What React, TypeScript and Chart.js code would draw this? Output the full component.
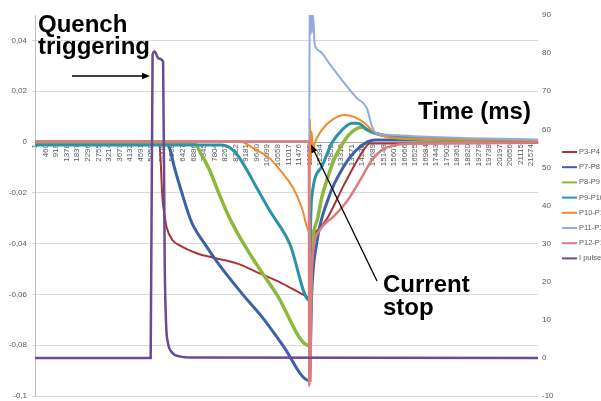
import React, { useEffect, useRef } from 'react';
import { Chart, registerables } from 'chart.js';

Chart.register(...registerables);

const FONT = '"Liberation Sans", Arial, sans-serif';

const SERIES_NAMES = ['P3-P4', 'P7-P8', 'P8-P9', 'P9-P10', 'P10-P11', 'P11-P12', 'P12-P13', 'I pulse'];
const SERIES_COLORS = ['#a83535', '#3d60a8', '#8cb83c', '#2b93a8', '#ee8a30', '#92abdd', '#dc7c7f', '#6a4a96'];
const SERIES_WIDTHS = [2, 3, 3.5, 3, 2, 2, 2.5, 2.5];

const X_TICK_LABELS = ['1', '460', '919', '1378', '1837', '2296', '2755', '3214', '3673', '4132', '4591', '5050',
  '5509', '5968', '6427', '6886', '7345', '7804', '8263', '8722', '9181', '9640', '10099', '10558', '11017', '11476',
  '11935', '12394', '12853', '13312', '13771', '14230', '14689', '15148', '15607', '16066', '16525', '16984', '17443',
  '17902', '18361', '18820', '19279', '19738', '20197', '20656', '21115', '21574'];
const X_MIN = 1;
const X_MAX = 21870;

const LEFT_TICKS = [-0.1, -0.08, -0.06, -0.04, -0.02, 0, 0.02, 0.04];
const LEFT_TICK_LABELS = ['-0,1', '-0,08', '-0,06', '-0,04', '-0,02', '0', '0,02', '0,04'];
const RIGHT_TICKS = [-10, 0, 10, 20, 30, 40, 50, 60, 70, 80, 90];

// [time (sample), voltage]
const P3_P4: [number, number][] = [
  [1, 0.0003], [5400, 0.0003], [5549, -0.023], [5636, -0.0289], [5723, -0.0336], [5984, -0.0387],
  [6288, -0.0407], [7028, -0.0438], [7681, -0.0454], [8769, -0.0478], [9769, -0.0517], [10639, -0.0552],
  [11814, -0.0608], [11930, -0.0612], [12031, -0.042], [12379, -0.034], [12727, -0.0297], [13467, -0.0163],
  [14206, -0.0044], [14554, -0.0006], [15000, -0.0006], [21870, -0.0004],
];
const P7_P8: [number, number][] = [
  [1, -0.0006], [5723, -0.0006], [5853, -0.0025], [6071, -0.0103], [6375, -0.0197], [6810, -0.0316],
  [7376, -0.04], [8029, -0.0486], [9030, -0.06], [9986, -0.0702], [10770, -0.08], [11930, -0.0939],
  [12031, -0.06], [12249, -0.0399], [12727, -0.0229], [13467, -0.009], [14119, -0.002], [14772, 0.0008],
  [15860, 0.0008], [21870, 0.0004],
];
const P8_P9: [number, number][] = [
  [1, -0.0008], [6941, -0.0008], [7246, -0.0052], [7594, -0.0111], [7942, -0.019], [8464, -0.03],
  [9247, -0.0427], [10509, -0.06], [11930, -0.0802], [12031, -0.045], [12292, -0.03], [12466, -0.022],
  [12727, -0.014], [13032, -0.0063], [13467, 0.0007], [13771, 0.0039], [14206, 0.0058], [14467, 0.0047],
  [14772, 0.0035], [15860, 0.0016], [21870, 0.0005],
];
const P9_P10: [number, number][] = [
  [1, -0.0012], [8116, -0.0012], [8682, -0.0038], [9116, -0.0095], [9638, -0.018], [10204, -0.027],
  [11074, -0.04], [11930, -0.0624], [11990, -0.03], [12031, -0.022], [12466, -0.0098], [12901, -0.0005],
  [13336, 0.0046], [13771, 0.0074], [14032, 0.0074], [14467, 0.0047], [14772, 0.0035], [15860, 0.002],
  [21870, 0.0006],
];
const P10_P11: [number, number][] = [
  [1, 0.0003], [8899, 0.0003], [9551, -0.0028], [10204, -0.0064], [10726, -0.0119], [11205, -0.0178],
  [11596, -0.0257], [11930, -0.0355], [11960, 0.009], [11990, -0.008], [12031, 0.004], [12075, -0.004],
  [12162, -0.0005], [12466, 0.0047], [12901, 0.0086], [13467, 0.0106], [13902, 0.0098], [14337, 0.0074],
  [14641, 0.0047], [14902, 0.0031], [15424, 0.0019], [16730, 0.0013], [21870, 0.0007],
];
const P11_P12: [number, number][] = [
  [1, 0.0002], [11925, 0.0002], [11944, 0.06], [11970, 0.042], [12000, 0.058], [12040, 0.043],
  [12090, 0.05], [12162, 0.0385], [12379, 0.0358], [12814, 0.0307], [13380, 0.024], [13989, 0.0173],
  [14424, 0.0134], [14641, 0.0065], [14859, 0.0033], [15424, 0.0028], [16730, 0.0022], [18900, 0.0015],
  [21870, 0.001],
];
const P12_P13: [number, number][] = [
  [1, 0.0002], [11910, 0.0002], [11925, -0.096], [11950, -0.03], [11975, -0.094], [12010, -0.06],
  [12075, -0.045], [12379, -0.0348], [13032, -0.0289], [13597, -0.0229], [14206, -0.0139], [14641, -0.0072],
  [15076, -0.0032], [15642, -0.0013], [16730, -0.0006], [21870, -0.0002],
];
// [time (sample), current]
const I_PULSE: [number, number][] = [
  [1, 0], [5030, 0], [5113, 79.5], [5200, 80.4], [5375, 78.6], [5570, 77.8], [5640, 25], [5700, 9],
  [5780, 4], [5950, 1.5], [6300, 0.4], [6800, 0.1], [21870, 0],
];

const SERIES = [P3_P4, P7_P8, P8_P9, P9_P10, P10_P11, P11_P12, P12_P13, I_PULSE];

const QUENCH_T = 5000;
const STOP_T = 12000;

function drawArrow(ctx: CanvasRenderingContext2D, x1: number, y1: number, x2: number, y2: number) {
  const ang = Math.atan2(y2 - y1, x2 - x1);
  const len = 8;
  const half = 3.2;
  ctx.strokeStyle = '#000';
  ctx.fillStyle = '#000';
  ctx.lineWidth = 1.3;
  ctx.beginPath();
  ctx.moveTo(x1, y1);
  ctx.lineTo(x2 - Math.cos(ang) * len * 0.8, y2 - Math.sin(ang) * len * 0.8);
  ctx.stroke();
  ctx.beginPath();
  ctx.moveTo(x2, y2);
  ctx.lineTo(x2 - Math.cos(ang) * len - Math.sin(ang) * half, y2 - Math.sin(ang) * len + Math.cos(ang) * half);
  ctx.lineTo(x2 - Math.cos(ang) * len + Math.sin(ang) * half, y2 - Math.sin(ang) * len - Math.cos(ang) * half);
  ctx.closePath();
  ctx.fill();
}

const overlayPlugin = {
  id: 'overlay',
  afterDraw(chart: any) {
    const ctx: CanvasRenderingContext2D = chart.ctx;
    const xs = chart.scales.x;
    const yl = chart.scales.y;
    ctx.save();
    // legend
    ctx.font = `7.5px ${FONT}`;
    ctx.textBaseline = 'middle';
    ctx.textAlign = 'left';
    SERIES_NAMES.forEach((name, i) => {
      const y = 152 + i * 15.2;
      ctx.strokeStyle = SERIES_COLORS[i];
      ctx.lineWidth = 2;
      ctx.beginPath();
      ctx.moveTo(562, y);
      ctx.lineTo(577, y);
      ctx.stroke();
      ctx.fillStyle = '#595959';
      ctx.fillText(name, 579, y);
    });
    // annotations
    ctx.fillStyle = '#000';
    ctx.font = `bold 24px ${FONT}`;
    ctx.textBaseline = 'alphabetic';
    ctx.fillText('Quench', 38, 32);
    ctx.fillText('triggering', 38, 54);
    ctx.fillText('Time (ms)', 418, 119);
    ctx.fillText('Current', 383, 292);
    ctx.fillText('stop', 383, 315);
    drawArrow(ctx, 72, 76, xs.getPixelForValue(QUENCH_T), 76);
    drawArrow(ctx, 377, 281, xs.getPixelForValue(STOP_T), yl.getPixelForValue(-0.001));
    ctx.restore();
  },
};

export default function App() {
  const ref = useRef<HTMLCanvasElement>(null);
  useEffect(() => {
    const datasets = SERIES.map((s, i) => ({
      label: SERIES_NAMES[i],
      data: s.map(([x, y]) => ({ x, y })),
      borderColor: SERIES_COLORS[i],
      backgroundColor: SERIES_COLORS[i],
      borderWidth: SERIES_WIDTHS[i],
      pointRadius: 0,
      fill: false,
      cubicInterpolationMode: 'monotone' as const,
      yAxisID: i === 7 ? 'y1' : 'y',
      order: 7 - i,
    }));
    const tickFont = { size: 8, family: FONT };
    const chart = new Chart(ref.current!, {
      type: 'line',
      data: { datasets },
      options: {
        animation: false,
        responsive: false,
        devicePixelRatio: 1,
        layout: { padding: { top: 15, bottom: 5, left: 0, right: 0 } },
        plugins: { legend: { display: false }, tooltip: { enabled: false } },
        scales: {
          x: {
            type: 'linear',
            min: X_MIN,
            max: X_MAX,
            position: { y: 0 } as any,
            afterBuildTicks: (s: any) => {
              s.ticks = X_TICK_LABELS.map((l) => ({ value: Number(l) }));
            },
            ticks: {
              autoSkip: false,
              minRotation: 90,
              maxRotation: 90,
              padding: 2,
              color: '#595959',
              font: tickFont,
              callback: (_v: any, i: number) => X_TICK_LABELS[i],
            },
            grid: { display: false, drawTicks: false },
            border: { display: true, color: '#a6a6a6' },
          },
          y: {
            type: 'linear',
            position: 'left',
            min: -0.1,
            max: 0.05,
            afterBuildTicks: (s: any) => {
              s.ticks = LEFT_TICKS.map((v) => ({ value: v }));
            },
            afterFit: (s: any) => {
              s.width = 35;
              s.paddingTop = 0;
              s.paddingBottom = 0;
            },
            ticks: {
              padding: 5,
              color: '#595959',
              font: tickFont,
              callback: (_v: any, i: number) => LEFT_TICK_LABELS[i],
            },
            grid: { color: '#d9d9d9', tickLength: 3, drawTicks: true },
            border: { display: true, color: '#bfbfbf' },
          },
          y1: {
            type: 'linear',
            position: 'right',
            min: -10,
            max: 90,
            afterBuildTicks: (s: any) => {
              s.ticks = RIGHT_TICKS.map((v) => ({ value: v }));
            },
            afterFit: (s: any) => {
              s.width = 63;
              s.paddingTop = 0;
              s.paddingBottom = 0;
            },
            ticks: { padding: 4, color: '#595959', font: tickFont },
            grid: { display: false, drawTicks: false },
            border: { display: false },
          },
        },
      },
      plugins: [overlayPlugin],
    } as any);
    return () => chart.destroy();
  }, []);
  return (
    <canvas
      ref={ref}
      width={601}
      height={401}
      style={{ position: 'absolute', left: 0, top: 0, width: 601, height: 401 }}
    />
  );
}
